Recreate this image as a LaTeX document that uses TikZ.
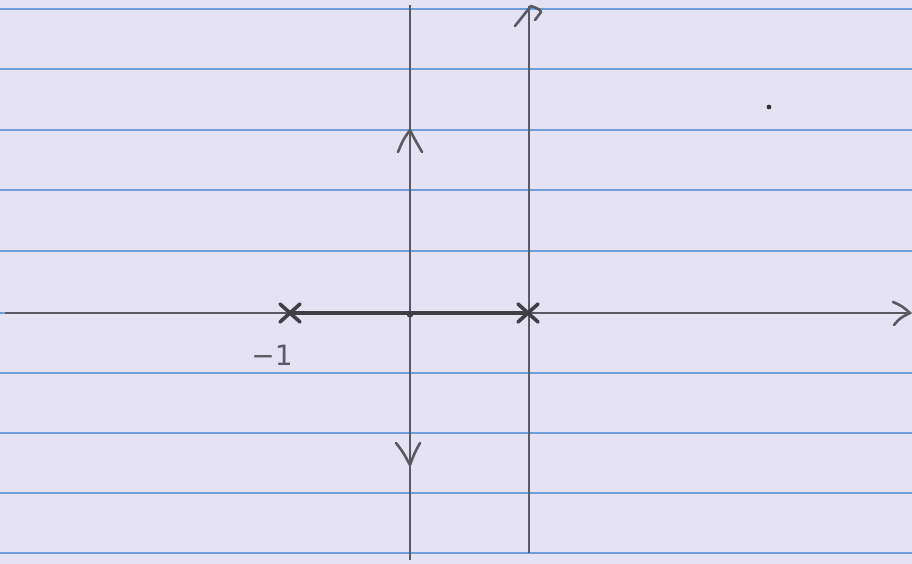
\documentclass[tikz,border=0pt]{standalone}
\usepackage{fontspec}
\setmainfont{DejaVu Sans}
\usetikzlibrary{calc}
\definecolor{paper}{HTML}{E4E2F3}
\definecolor{rule}{HTML}{6E9FDA}
\definecolor{pencil}{HTML}{5A5A62}
\begin{document}
\begin{tikzpicture}[x=1pt,y=-1pt,
  ruleline/.style={rule,line width=2pt},
  axisline/.style={pencil,line width=2pt},
  locus/.style={pencil!70!black,line width=4pt},
  pole/.style={pencil!70!black,line width=3.6pt,line cap=round},
  wing/.style={pencil,line width=2.6pt,line cap=round,line join=round}]
\fill[paper] (0,0) rectangle (912,564);
\useasboundingbox (0,0) rectangle (912,564);
\foreach \yy in {9,69,130,190,251,313,373,433,493,553}
  \draw[ruleline] (0,\yy) -- (912,\yy);
% real axis
\coordinate (xl) at (5,313);
\coordinate (xr) at (910,313);
\draw[axisline] (xl) -- (xr);
\draw[wing] (893,302) .. controls (902,306) .. (xr) .. controls (900,318) .. (894,325);
% imaginary axis through the origin of the locus
\coordinate (vt) at (410,5);
\coordinate (vb) at (410,560);
\draw[axisline,line width=1.8pt] (vt) -- (vb);
% jw axis
\coordinate (jt) at (529,6);
\coordinate (jb) at (529,553);
\draw[axisline,line width=1.8pt] (jt) -- (jb);
\draw[wing] (515,26) -- (531,6) .. controls (537,8) and (541,10) .. (541,12) -- (535,20);
% locus on real axis
\coordinate (p1) at (290,313);
\coordinate (p2) at (528,313);
\draw[locus] (p1) -- (p2);
\foreach \c in {p1,p2}{
  \draw[pole] ($(\c)+(-10,-9)$) -- ($(\c)+(10,9)$);
  \draw[pole] ($(\c)+(-10,9)$) -- ($(\c)+(10,-9)$);
}
% breakaway point
\node[circle,fill=pencil!70!black,inner sep=0pt,minimum size=7pt] (bp) at (410,314) {};
% branch arrows
\draw[wing] (398,152) .. controls (403,140) .. (410,130) .. controls (414,138) .. (422,152);
\draw[wing] (396,443) .. controls (403,452) .. (410,465) .. controls (414,454) .. (420,443);
% label
\node[pencil,font=\fontsize{28}{28}\selectfont] (lab) at (272,355) {−1};
% stray dot
\fill[black!80] (769,107) circle (2.4);
\end{tikzpicture}
\end{document}
